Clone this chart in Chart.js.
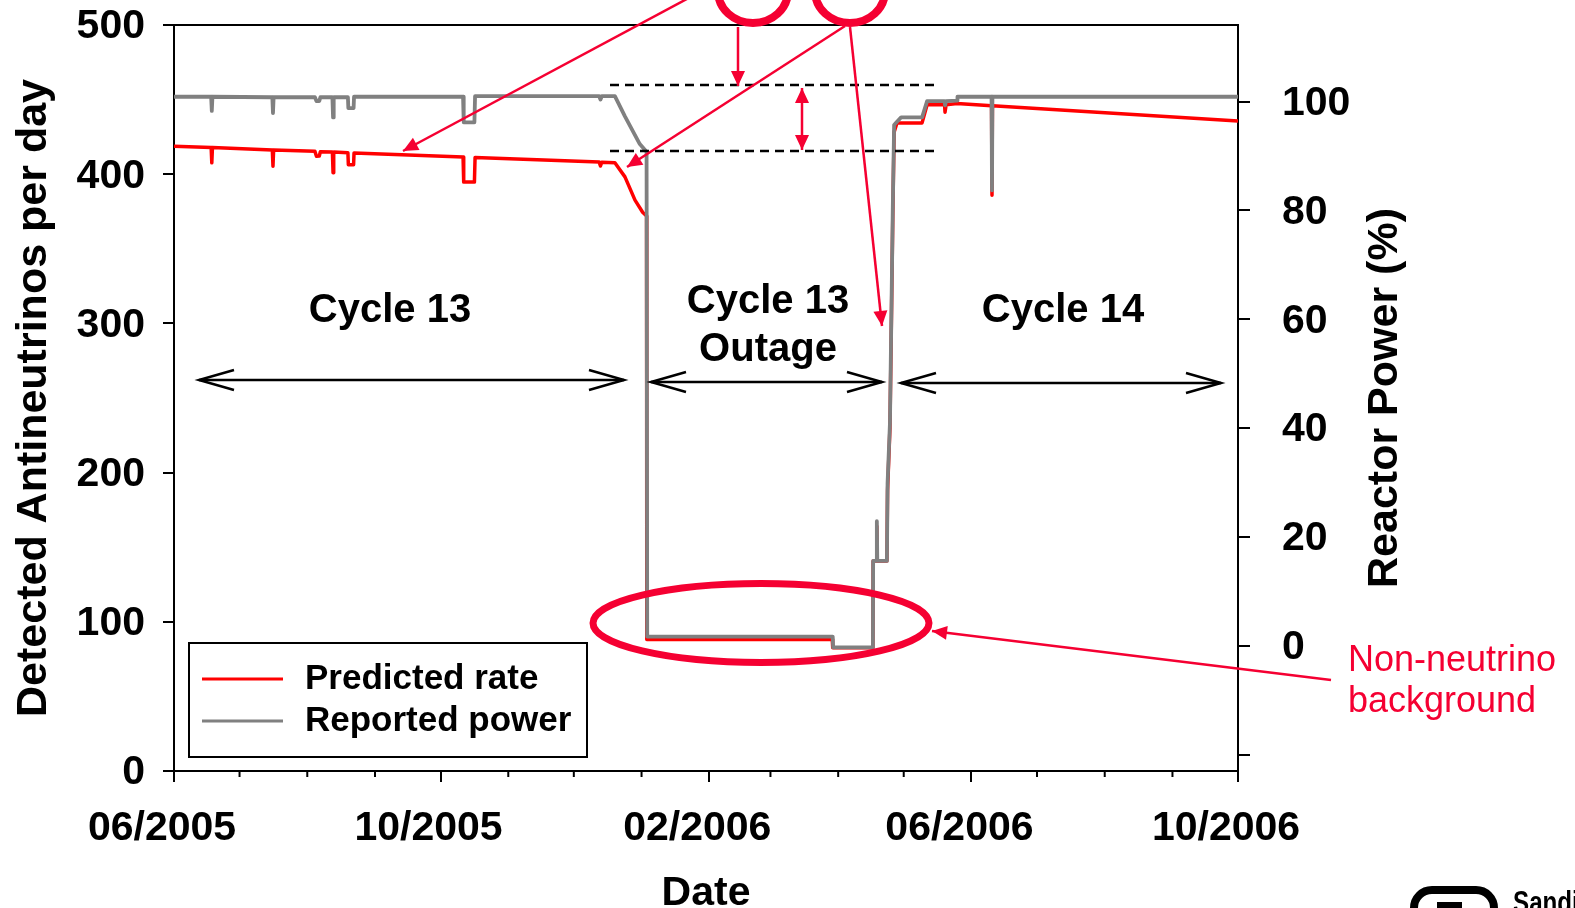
<!DOCTYPE html>
<html>
<head>
<meta charset="utf-8">
<script src="https://cdn.jsdelivr.net/npm/chart.js@4.4.1/dist/chart.umd.min.js"></script>
<style>
  html, body { margin: 0; padding: 0; background: #fff; }
  #wrap { width: 1575px; height: 908px; position: relative; }
</style>
</head>
<body>
<div id="wrap"><canvas id="chart"></canvas></div>
<script>
// x values are days since 1 June 2005
const START = Date.UTC(2005, 5, 1);
function dayOf(y, m, d) { return (Date.UTC(y, m - 1, d) - START) / 86400000; }

const xTickLabels = ['06/2005', '10/2005', '02/2006', '06/2006', '10/2006'];

// Predicted rate (antineutrinos per day, left axis)
const rateDays = [0, 17.0, 17.3, 17.6, 45.0, 45.3, 45.6, 64.5, 65.2, 66.5, 67.0, 72.5, 72.8, 73.1,
  79.6, 79.8, 82.2, 82.4, 132.3, 132.6, 137.5, 137.8, 194.6, 195.2, 195.8, 201.8, 206.4, 211.0,
  214.5, 216.3, 216.4, 301.3, 301.5, 319.9, 320.0, 321.5, 321.7, 321.9, 326.3, 326.6, 327.7,
  329.0, 329.6, 330.9, 342.4, 344.7, 352.7, 352.9, 353.4, 358.4, 374.2, 374.4, 374.6, 487];
const rateValues = [418.8, 417.9, 407.6, 417.9, 416.3, 405.4, 416.3, 415.3, 412.0, 412.2, 415.1, 414.8, 401.0, 414.8,
  414.4, 406.3, 406.3, 414.2, 411.5, 394.7, 394.7, 411.2, 408.1, 405.5, 408.0, 407.7, 398.2, 382.6,
  374.5, 372.0, 88.1, 88.1, 82.6, 82.6, 140.8, 140.8, 164, 140.8, 140.8, 188, 230,
  372, 428.2, 434.4, 434.4, 446.5, 446.5, 441.6, 446.5, 447.4, 445.9, 385.9, 445.9, 435.6];

// Reported power (%, right axis)
const powerDays = [0, 17.0, 17.3, 17.6, 45.0, 45.3, 45.6, 64.5, 65.2, 66.5, 67.0, 72.5, 72.8, 73.1,
  79.6, 79.8, 82.2, 82.4, 132.3, 132.6, 137.5, 137.8, 194.6, 195.2, 195.8, 201.8, 206.4, 213.2,
  216.3, 216.6, 301.5, 301.7, 319.9, 320.0, 321.5, 321.7, 321.9, 326.3, 326.6, 327.7, 329.0,
  329.6, 330.9, 332.8, 342.4, 344.7, 352.7, 352.9, 353.4, 358.4, 358.6, 374.2, 374.4, 374.6, 487];
const powerValues = [100.9, 100.9, 98.3, 100.9, 100.8, 97.9, 100.8, 100.8, 100.1, 100.1, 100.8, 100.8, 97.1, 100.8,
  100.8, 98.8, 98.8, 100.9, 100.9, 96.2, 96.2, 101.0, 101.0, 100.4, 101.0, 101.0, 97.3, 92.2,
  90.8, 1.7, 1.7, -0.3, -0.3, 15.6, 15.6, 22.9, 15.6, 15.6, 29.8, 41.0, 80.6,
  95.7, 96.3, 97.1, 97.1, 100.1, 100.1, 99.3, 100.1, 100.2, 100.9, 100.9, 83.7, 100.9, 100.9];

const majorDays = xTickLabels.map(s => { const [m, y] = s.split('/'); return dayOf(+y, +m, 1); });
const minorDays = [];
for (let i = 0; i <= 16; i++) {
  const d = dayOf(2005 + Math.floor((5 + i) / 12), ((5 + i) % 12) + 1, 1);
  if (!majorDays.includes(d)) minorDays.push(d);
}

const FONT = '"Liberation Sans", Arial, sans-serif';
const NOTE_RED = '#f50032';

function arrowHead(ctx, x0, y0, x1, y1, len, half, filled) {
  const a = Math.atan2(y1 - y0, x1 - x0);
  const bx = x1 - len * Math.cos(a), by = y1 - len * Math.sin(a);
  const nx = -Math.sin(a) * half, ny = Math.cos(a) * half;
  ctx.beginPath();
  ctx.moveTo(bx + nx, by + ny);
  ctx.lineTo(x1, y1);
  ctx.lineTo(bx - nx, by - ny);
  if (filled) { ctx.closePath(); ctx.fill(); } else ctx.stroke();
}

function redArrow(ctx, x0, y0, x1, y1, both) {
  ctx.beginPath(); ctx.moveTo(x0, y0); ctx.lineTo(x1, y1); ctx.stroke();
  arrowHead(ctx, x0, y0, x1, y1, 15, 7, true);
  if (both) arrowHead(ctx, x1, y1, x0, y0, 15, 7, true);
}

function blackSpan(ctx, x0, x1, y) {
  ctx.beginPath(); ctx.moveTo(x0, y); ctx.lineTo(x1, y); ctx.stroke();
  arrowHead(ctx, x0, y, x1, y, 35, 10, false);
  arrowHead(ctx, x1, y, x0, y, 35, 10, false);
}

// keep the plot frame where the original has it
function noPad(scale) {
  scale.paddingTop = 0; scale.paddingBottom = 0;
  scale.paddingLeft = 0; scale.paddingRight = 0;
}

const annotate = {
  id: 'annotate',
  afterDraw(chart) {
    const ctx = chart.ctx;
    const {left, right, top, bottom} = chart.chartArea;
    const xs = chart.scales.x;
    ctx.save();

    // frame top + minor month ticks
    ctx.strokeStyle = '#000';
    ctx.lineWidth = 2;
    ctx.beginPath(); ctx.moveTo(left, top); ctx.lineTo(right, top); ctx.stroke();
    minorDays.forEach(d => {
      const px = xs.getPixelForValue(d);
      ctx.beginPath(); ctx.moveTo(px, bottom); ctx.lineTo(px, bottom + 6); ctx.stroke();
    });

    // right axis title (reads bottom to top)
    ctx.save();
    ctx.translate(1385, (top + bottom) / 2);
    ctx.rotate(-Math.PI / 2);
    ctx.fillStyle = '#000';
    ctx.font = 'bold 43px ' + FONT;
    ctx.textAlign = 'center';
    ctx.textBaseline = 'middle';
    ctx.fillText('Reactor Power (%)', 0, 0);
    ctx.restore();

    // legend box
    ctx.fillStyle = '#fff';
    ctx.fillRect(189, 643, 398, 114);
    ctx.strokeRect(189, 643, 398, 114);
    ctx.font = 'bold 35px ' + FONT;
    ctx.textBaseline = 'middle';
    ctx.textAlign = 'left';
    [0, 1].forEach((i, k) => {
      const ds = chart.data.datasets[i];
      const y = 679 + k * 42;
      ctx.strokeStyle = ds.borderColor;
      ctx.lineWidth = 3;
      ctx.beginPath(); ctx.moveTo(202, y); ctx.lineTo(283, y); ctx.stroke();
      ctx.fillStyle = '#000';
      ctx.fillText(ds.label, 305, y);
    });

    // cycle labels and spans
    ctx.fillStyle = '#000';
    ctx.strokeStyle = '#000';
    ctx.lineWidth = 2.5;
    ctx.font = 'bold 40px ' + FONT;
    ctx.textAlign = 'center';
    ctx.fillText('Cycle 13', 390, 311);
    ctx.fillText('Cycle 13', 768, 302);
    ctx.fillText('Outage', 768, 350);
    ctx.fillText('Cycle 14', 1063, 311);
    blackSpan(ctx, 199, 624, 380);
    blackSpan(ctx, 651, 882, 382);
    blackSpan(ctx, 901, 1221, 383);

    // dashed reference lines
    ctx.setLineDash([9, 6]);
    ctx.beginPath(); ctx.moveTo(610, 85); ctx.lineTo(938, 85); ctx.stroke();
    ctx.beginPath(); ctx.moveTo(610, 151); ctx.lineTo(938, 151); ctx.stroke();
    ctx.setLineDash([]);

    // red callouts
    ctx.strokeStyle = NOTE_RED;
    ctx.fillStyle = NOTE_RED;
    ctx.lineWidth = 8;
    ctx.beginPath(); ctx.ellipse(753, -9, 35, 32, 0, 0, Math.PI * 2); ctx.stroke();
    ctx.beginPath(); ctx.ellipse(850, -9, 35, 32, 0, 0, Math.PI * 2); ctx.stroke();
    ctx.lineWidth = 7;
    ctx.beginPath(); ctx.ellipse(761, 623, 168, 39.5, 0, 0, Math.PI * 2); ctx.stroke();

    ctx.lineWidth = 2.5;
    redArrow(ctx, 698, -7, 403, 151);
    redArrow(ctx, 845, 26, 627, 167);
    redArrow(ctx, 850, 27, 882, 326);
    redArrow(ctx, 738, 27, 738, 86);
    redArrow(ctx, 802, 88, 802, 150, true);
    redArrow(ctx, 1331, 680, 932, 631);

    ctx.font = '36px ' + FONT;
    ctx.textAlign = 'left';
    ctx.fillText('Non-neutrino', 1348, 661);
    ctx.fillText('background', 1348, 702);

    // corner logo (cut by the page edge)
    ctx.strokeStyle = '#000';
    ctx.fillStyle = '#000';
    ctx.lineWidth = 8;
    ctx.beginPath(); ctx.roundRect(1414, 890, 80, 40, 18); ctx.stroke();
    ctx.fillRect(1437, 902, 25, 10);
    ctx.save();
    ctx.translate(1513, 913);
    ctx.scale(0.78, 1);
    ctx.font = 'bold 31px ' + FONT;
    ctx.textBaseline = 'alphabetic';
    ctx.fillText('Sandia', 0, 0);
    ctx.restore();

    ctx.restore();
  }
};

const tickFont = { family: FONT, size: 41, weight: 'bold' };

new Chart(document.getElementById('chart'), {
  type: 'line',
  data: {
    datasets: [
      {
        label: 'Predicted rate',
        data: rateDays.map((d, i) => ({ x: d, y: rateValues[i] })),
        yAxisID: 'y',
        borderColor: '#ff0000',
        borderWidth: 3.5,
        pointRadius: 0,
        borderJoinStyle: 'round',
        order: 1
      },
      {
        label: 'Reported power',
        data: powerDays.map((d, i) => ({ x: d, y: powerValues[i] })),
        yAxisID: 'y2',
        borderColor: '#808080',
        borderWidth: 3.8,
        pointRadius: 0,
        borderJoinStyle: 'round',
        order: 0
      }
    ]
  },
  options: {
    responsive: true,
    maintainAspectRatio: false,
    animation: false,
    layout: { padding: { top: 25, left: 0, right: 0, bottom: 0 } },
    plugins: { legend: { display: false }, tooltip: { enabled: false } },
    scales: {
      x: {
        type: 'linear',
        min: 0,
        max: majorDays[majorDays.length - 1],
        afterBuildTicks: scale => { scale.ticks = majorDays.map(v => ({ value: v })); },
        afterFit: scale => { scale.height = 137; noPad(scale); },
        ticks: {
          autoSkip: false,
          maxRotation: 0,
          color: '#000',
          font: tickFont,
          padding: 22,
          labelOffset: -12,
          callback: v => xTickLabels[majorDays.indexOf(v)]
        },
        grid: { drawOnChartArea: false, color: '#000', lineWidth: 2, tickLength: 11 },
        border: { display: true, color: '#000', width: 2 },
        title: {
          display: true,
          text: 'Date',
          color: '#000',
          font: { family: FONT, size: 41, weight: 'bold', lineHeight: 0.68 },
          padding: { top: 0, bottom: 0 }
        }
      },
      y: {
        position: 'left',
        min: 0,
        max: 500,
        afterFit: scale => { scale.width = 174; noPad(scale); },
        ticks: { stepSize: 100, color: '#000', font: tickFont, padding: 18, labelOffset: 2 },
        grid: { drawOnChartArea: false, color: '#000', lineWidth: 2, tickLength: 11 },
        border: { display: true, color: '#000', width: 2 },
        title: {
          display: true,
          text: 'Detected Antineutrinos per day',
          color: '#000',
          font: { family: FONT, size: 43, weight: 'bold' },
          padding: { top: 8, bottom: 0 }
        }
      },
      y2: {
        position: 'right',
        min: -23.0,
        max: 114.08,
        afterFit: scale => { scale.width = 337; noPad(scale); },
        ticks: {
          stepSize: 20,
          includeBounds: false,
          color: '#000',
          font: tickFont,
          padding: 32,
          labelOffset: 2,
          callback: v => (v < 0 ? '' : v)
        },
        grid: { drawOnChartArea: false, color: '#000', lineWidth: 2, tickLength: 12 },
        border: { display: true, color: '#000', width: 2 }
      }
    }
  },
  plugins: [annotate]
});
</script>
</body>
</html>
